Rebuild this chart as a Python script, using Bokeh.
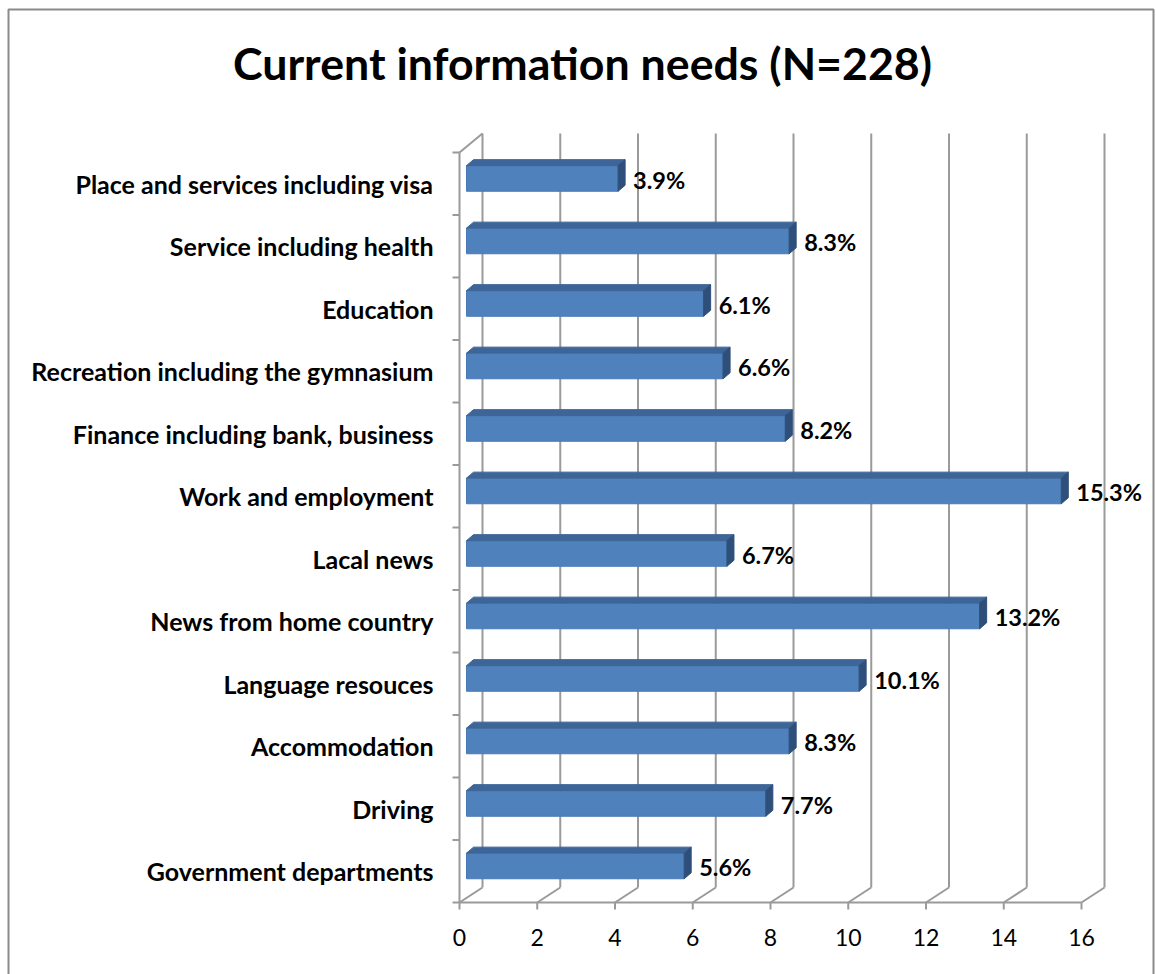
from bokeh.plotting import figure
from bokeh.models import (FixedTicker, LabelSet, Label, ColumnDataSource, Range1d)
from bokeh.core.properties import value
from bokeh.embed import file_html
from bokeh.resources import INLINE

# ---- data ----
categories = ["Government departments", "Driving", "Accommodation", "Language resouces",
              "News from home country", "Lacal news", "Work and employment",
              "Finance including bank, business", "Recreation including the gymnasium",
              "Education", "Service including health", "Place and services including visa"]
values = [5.6, 7.7, 8.3, 10.1, 13.2, 6.7, 15.3, 8.2, 6.6, 6.1, 8.3, 3.9]
x_ticks = [0, 2, 4, 6, 8, 10, 12, 14, 16]
title_text = "Current information needs (N=228)"

FONT = "Lato"
PXX = 38.875   # px per x unit
PXY = 62.5     # px per row

W, H = 1156, 974
x0px, y0px = 459, 902   # pixel position of data origin


def dx(px):
    return (px - x0px) / PXX


def dy(py):
    return (y0px - py) / PXY


p = figure(width=W, height=H, output_backend="svg", toolbar_location=None,
           x_range=Range1d(dx(0), dx(W)), y_range=Range1d(dy(H), dy(0)),
           min_border_left=0, min_border_right=0, min_border_top=0, min_border_bottom=0)
p.outline_line_color = None
p.xgrid.visible = False
p.ygrid.visible = False
p.background_fill_color = "white"
p.border_fill_color = "white"

n = len(categories)
dxw = 23 / PXX   # wall depth
dyw = 15 / PXY
top_y = dy(133)
grid_col = "#9a9a9a"

# outer border
p.patch([dx(8), dx(1153), dx(1153), dx(8)], [dy(990), dy(990), dy(9), dy(9)],
        fill_color=None, line_color="#8a8a8a", line_width=2)

# back wall verticals
p.segment(x0=[t + dxw for t in x_ticks], y0=[dyw] * len(x_ticks),
          x1=[t + dxw for t in x_ticks], y1=[top_y] * len(x_ticks),
          line_color=grid_col, line_width=2)
# floor diagonals
p.segment(x0=x_ticks, y0=[0] * len(x_ticks), x1=[t + dxw for t in x_ticks], y1=[dyw] * len(x_ticks),
          line_color=grid_col, line_width=2)
# floor front line
p.segment(x0=[0], y0=[0], x1=[x_ticks[-1]], y1=[0], line_color=grid_col, line_width=2)
# left wall
p.segment(x0=[0, 0], y0=[0, n], x1=[0, dxw], y1=[n, top_y], line_color=grid_col, line_width=2)
# left ticks at row boundaries
p.segment(x0=[-7 / PXX] * (n + 1), y0=list(range(n + 1)), x1=[0] * (n + 1), y1=list(range(n + 1)),
          line_color=grid_col, line_width=2)
# bottom ticks
p.segment(x0=x_ticks, y0=[0] * len(x_ticks), x1=x_ticks, y1=[-7 / PXY] * len(x_ticks),
          line_color=grid_col, line_width=2)

# bars
bx0 = 7 / PXX
bdx = 7 / PXX
bdy = 6 / PXY
front_x, front_y, top_x, top_y_, side_x, side_y = [], [], [], [], [], []
lx, ly, lt = [], [], []
for i, v in enumerate(values):
    c = i + 0.5 + 0.085
    yb, yt = c - 0.205, c + 0.205
    x1 = bx0 + v
    front_x.append([bx0, x1, x1, bx0]); front_y.append([yb, yb, yt, yt])
    top_x.append([bx0, x1, x1 + bdx, bx0 + bdx]); top_y_.append([yt, yt, yt + bdy, yt + bdy])
    side_x.append([x1, x1 + bdx, x1 + bdx, x1]); side_y.append([yb, yb + bdy, yt + bdy, yt])
    lx.append(x1 + 15 / PXX); ly.append(c - 0.02); lt.append(f"{v}%")

p.patches(front_x, front_y, fill_color="#4f81bd", line_color="#4a7ab5", line_width=1)
p.patches(top_x, top_y_, fill_color="#3e6597", line_color="#3e6597", line_width=1)
p.patches(side_x, side_y, fill_color="#2f4f7b", line_color="#2f4f7b", line_width=1)

src = ColumnDataSource(dict(x=lx, y=ly, t=lt))
p.add_layout(LabelSet(x="x", y="y", text="t", source=src, text_font=value(FONT),
                      text_font_style="bold", text_font_size="23.5px", text_baseline="middle",
                      text_align="left", text_color="black"))

# axes, fixed at the data origin
p.yaxis.fixed_location = 0
p.yaxis.ticker = FixedTicker(ticks=[i + 0.5 for i in range(n)])
p.yaxis.major_label_overrides = {i + 0.5: c for i, c in enumerate(categories)}
p.yaxis.axis_line_color = None
p.yaxis.major_tick_line_color = None
p.yaxis.minor_tick_line_color = None
p.yaxis.major_label_standoff = 20
p.yaxis.major_label_text_font = FONT
p.yaxis.major_label_text_font_style = "bold"
p.yaxis.major_label_text_font_size = "25px"
p.yaxis.major_label_text_color = "black"

p.xaxis.fixed_location = 0
p.xaxis.ticker = FixedTicker(ticks=x_ticks)
p.xaxis.axis_line_color = None
p.xaxis.major_tick_line_color = None
p.xaxis.minor_tick_line_color = None
p.xaxis.major_label_standoff = 20
p.xaxis.major_label_text_font = FONT
p.xaxis.major_label_text_font_size = "23px"
p.xaxis.major_label_text_color = "black"

# title
p.add_layout(Label(x=dx(582), y=dy(62), text=title_text, text_font=FONT,
                   text_font_style="bold", text_font_size="44.7px", text_align="center",
                   text_baseline="middle", text_color="black"))

open("out.html", "w").write(file_html(p, INLINE))
